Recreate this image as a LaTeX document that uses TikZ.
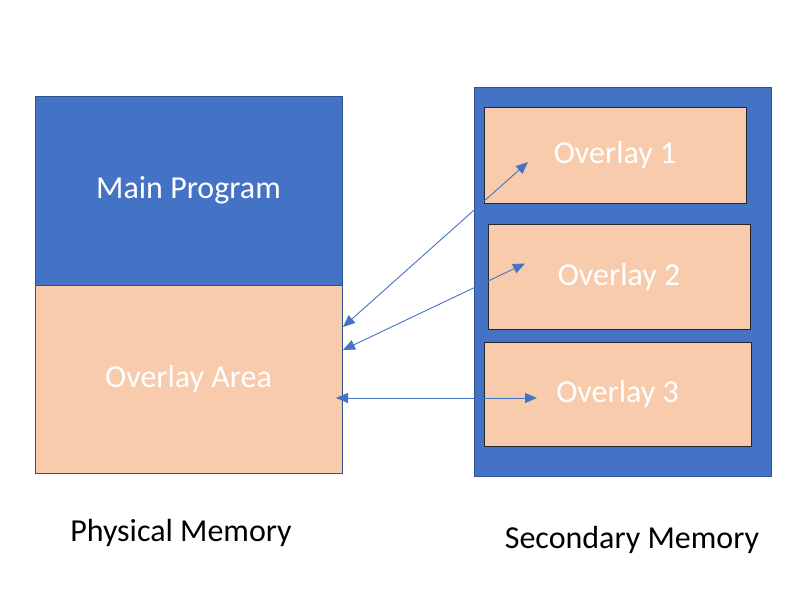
\documentclass[tikz,border=0pt]{standalone}
\usepackage{fontspec}
\setmainfont{Carlito}
\usetikzlibrary{arrows.meta, positioning}
\definecolor{memblue}{HTML}{4472C4}
\definecolor{overlaypeach}{HTML}{F8CBAD}
\definecolor{edgeblue}{HTML}{2F528F}
\tikzset{
    % boxes of both memories, sizes in pixels of the picture
    block/.style = {rectangle, draw=edgeblue, line width=0.8pt, inner sep=0pt, outer sep=0pt, text centered, text=white, font=\fontsize{32}{38}\selectfont},
    progblock/.style = {block, fill=memblue, minimum width=307pt, minimum height=189pt},
    areablock/.style = {block, fill=overlaypeach, minimum width=307pt, minimum height=188pt},
    storeblock/.style = {block, fill=memblue, minimum width=297pt, minimum height=389pt},
    overlayblock/.style = {block, draw=black!85, fill=overlaypeach},
    caption/.style = {font=\fontsize{32}{38}\selectfont, text=black},
    arrow/.style = {memblue, line width=0.9pt, {Triangle[length=12pt,width=10pt]}-{Triangle[length=12pt,width=10pt]}}
}
\begin{document}
\begin{tikzpicture}[x=1pt, y=-1pt]
\useasboundingbox (0,0) rectangle (808,592);

% physical memory
\node[progblock, anchor=north west] (main) at (35,96) {Main Program};
\node[areablock, below=0pt of main] (area) {Overlay Area};

% secondary memory
\node[storeblock, anchor=north west] (store) at (474,87) {};
\node[overlayblock, anchor=north west, minimum width=262pt, minimum height=96pt] (ovl1) at (484,107) {Overlay 1};
\node[overlayblock, anchor=north west, minimum width=262pt, minimum height=105pt] (ovl2) at (488,224) {Overlay 2};
\node[overlayblock, anchor=north west, minimum width=267pt, minimum height=104pt] (ovl3) at (484,342) {Overlay 3};

\node[caption] (physlabel) at (181,533) {Physical Memory};
\node[caption] (storelabel) at (632,540) {Secondary Memory};

% swapping arrows
\coordinate (in1) at ([shift={(44,7)}]ovl1.west);
\coordinate (in2) at ([shift={(37,-13)}]ovl2.west);
\coordinate (in3) at ([shift={(53,4)}]ovl3.west);
\coordinate (out1) at ([shift={(1,-52)}]area.east);
\coordinate (out2) at ([shift={(1,-29)}]area.east);
\coordinate (out3) at ([shift={(-6,19)}]area.east);

\draw[arrow] (in1) -- (out1);
\draw[arrow] (in2) -- (out2);
\draw[arrow] (out3) -- (in3);

\end{tikzpicture}
\end{document}
